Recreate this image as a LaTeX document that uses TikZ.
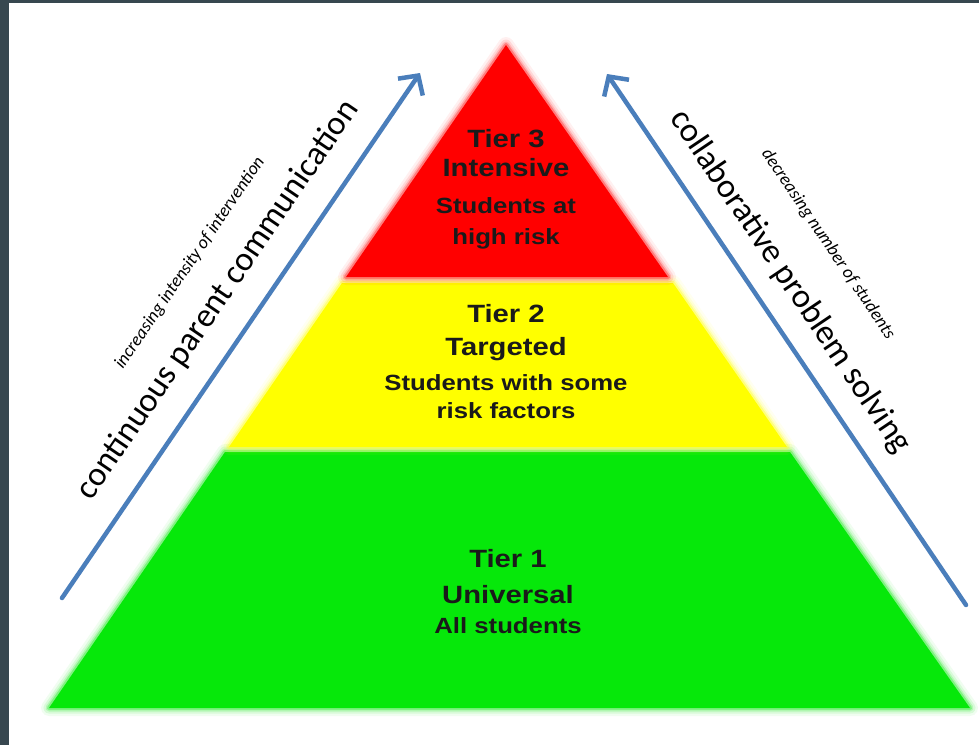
\documentclass[tikz,border=0pt]{standalone}
\usepackage{fontspec}
\setmainfont{Liberation Sans}
\newfontfamily\tierfont{Liberation Sans}[FakeStretch=1.17]
\newfontfamily\lblfont{Carlito}
\usetikzlibrary{arrows.meta}
\definecolor{framecol}{HTML}{37474F}
\definecolor{tierred}{HTML}{FF0000}
\definecolor{tieryellow}{HTML}{FFFF00}
\definecolor{tiergreen}{HTML}{06E80A}
\definecolor{arrowblue}{HTML}{4A7EBB}
\definecolor{inkcol}{HTML}{1A1A1A}
\tikzset{
  tiertitle/.style={inner sep=0pt, anchor=base, text=inkcol, font=\tierfont\bfseries\fontsize{25}{25}\selectfont},
  tiersub/.style={inner sep=0pt, anchor=base, text=inkcol, font=\tierfont\bfseries\fontsize{22}{22}\selectfont},
  biglbl/.style={inner sep=0pt, text=black, font=\lblfont\fontsize{34}{34}\selectfont},
  smalllbl/.style={inner sep=0pt, text=black, font=\lblfont\itshape\fontsize{18}{18}\selectfont},
  bluearrow/.style={draw=arrowblue, line width=4.5pt, line cap=round, -{Straight Barb[length=14pt,width=30pt]}},
}
\newcommand{\glowshape}[2]{%
  \foreach \w/\o in {16/0.06,11/0.1,7/0.16,4/0.3}{\draw[#1, line width=\w pt, opacity=\o, line join=round] #2;}%
  \fill[#1] #2;}
\begin{document}
\begin{tikzpicture}[x=1pt,y=-1pt]
\useasboundingbox (0,0) rectangle (979,745);
\fill[framecol] (0,0) rectangle (979,745);
\fill[white] (9,3) rectangle (979,745);

% pyramid tiers
\glowshape{tiergreen}{(225,452) -- (790,452) -- (970,708) -- (49,708) -- cycle}
\glowshape{tieryellow}{(342,283) -- (673,283) -- (787,447) -- (229,447) -- cycle}
\glowshape{tierred}{(506,45) -- (668,277) -- (346,277) -- cycle}

% tier texts
\node[tiertitle] (t3a) at (506,147) {Tier 3};
\node[tiertitle] (t3b) at (506,176) {Intensive};
\node[tiersub]   (t3c) at (506,213) {Students at};
\node[tiersub]   (t3d) at (506,244) {high risk};

\node[tiertitle] (t2a) at (506,322) {Tier 2};
\node[tiertitle] (t2b) at (506,355) {Targeted};
\node[tiersub]   (t2c) at (506,390) {Students with some};
\node[tiersub]   (t2d) at (506,418) {risk factors};

\node[tiertitle] (t1a) at (508,567) {Tier 1};
\node[tiertitle] (t1b) at (508,603) {Universal};
\node[tiersub]   (t1c) at (508,633) {All students};

% arrows
\coordinate (la) at (62,598);
\coordinate (lb) at (420,73);
\coordinate (ra) at (966,605);
\coordinate (rb) at (607,74);
\draw[bluearrow] (la) -- (lb);
\draw[bluearrow] (ra) -- (rb);

% arrow labels
\node[biglbl, rotate=55.7] (lmain) at (218,300) {continuous parent communication};
\node[smalllbl, rotate=55.7] (lsmall) at (190,263) {increasing intensity of intervention};
\node[biglbl, rotate=-56] (rmain) at (790,282) {collaborative problem solving};
\node[smalllbl, rotate=-56] (rsmall) at (828,244) {decreasing number of students};
\end{tikzpicture}
\end{document}
